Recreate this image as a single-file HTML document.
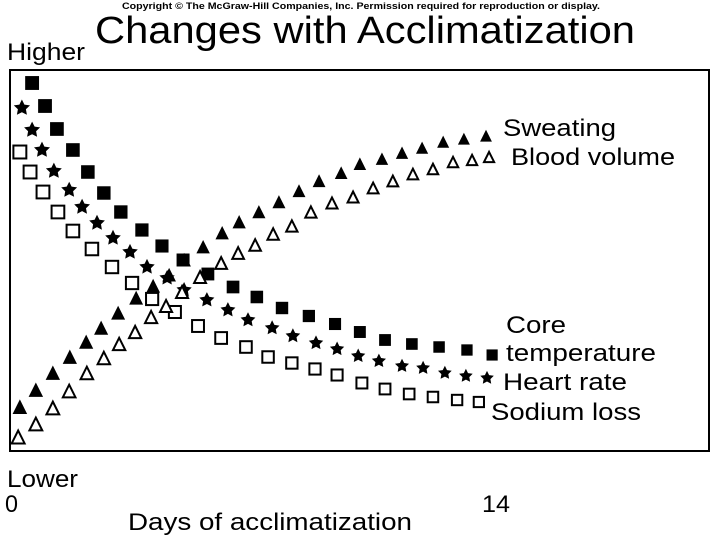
<!DOCTYPE html>
<html><head><meta charset="utf-8"><style>
body{margin:0;background:#fff;}
svg{display:block;font-family:"Liberation Sans",sans-serif;}
</style></head><body>
<svg id="chart" width="720" height="540" viewBox="0 0 720 540">
<text x="122" y="9" font-size="9" font-weight="bold" textLength="478" lengthAdjust="spacingAndGlyphs">Copyright © The McGraw-Hill Companies, Inc. Permission required for reproduction or display.</text>
<text x="95" y="43" font-size="38" textLength="540" lengthAdjust="spacingAndGlyphs">Changes with Acclimatization</text>
<rect x="10" y="70" width="699" height="381" fill="none" stroke="#000" stroke-width="2"/>
<g font-size="24">
<text x="7" y="60" textLength="78" lengthAdjust="spacingAndGlyphs">Higher</text>
<text x="7" y="487" textLength="71" lengthAdjust="spacingAndGlyphs">Lower</text>
<text x="5" y="512" textLength="13" lengthAdjust="spacingAndGlyphs">0</text>
<text x="482" y="512" textLength="28" lengthAdjust="spacingAndGlyphs">14</text>
<text x="128" y="530" textLength="284" lengthAdjust="spacingAndGlyphs">Days of acclimatization</text>
<text x="503" y="136" textLength="113" lengthAdjust="spacingAndGlyphs">Sweating</text>
<text x="511" y="165" textLength="164" lengthAdjust="spacingAndGlyphs">Blood volume</text>
<text x="506" y="333" textLength="60" lengthAdjust="spacingAndGlyphs">Core</text>
<text x="506" y="361" textLength="150" lengthAdjust="spacingAndGlyphs">temperature</text>
<text x="503" y="390" textLength="124" lengthAdjust="spacingAndGlyphs">Heart rate</text>
<text x="491" y="420" textLength="150" lengthAdjust="spacingAndGlyphs">Sodium loss</text>
</g>
<g id="marks"></g>
</svg>
<script>
const coreDays=[0.65,1.03,1.38,1.85,2.29,2.76,3.26,3.88,4.47,5.09,5.82,6.56,7.26,8.0,8.79,9.56,10.29,11.03,11.82,12.62,13.44,14.18];
const coreVals=[95.75,90,84.25,79,73.5,68.25,63.5,59,55,51.5,48,44.75,42.25,39.5,37.5,35.5,33.5,31.5,30.5,29.75,29,27.75];
const heartDays=[0.35,0.65,0.94,1.29,1.74,2.12,2.56,3.03,3.53,4.03,4.62,5.12,5.79,6.41,7.0,7.71,8.32,9.0,9.62,10.24,10.85,11.53,12.15,12.79,13.41,14.03];
const heartVals=[89.5,84,79,73.75,69,64.75,60.75,57,53.5,49.75,47,44,41.5,39,36.5,34.5,32.5,30.75,29.25,27.5,26.25,25,24.5,23.25,22.5,22];
const sodiumDays=[0.29,0.59,0.97,1.41,1.85,2.41,3.0,3.59,4.18,4.85,5.53,6.21,6.94,7.59,8.29,8.97,9.62,10.35,11.03,11.74,12.44,13.15,13.79];
const sodiumVals=[78.5,73.5,68.5,63.5,58.75,54.25,49.75,45.75,41.75,38.5,35,32,29.75,27.25,25.75,24.25,22.75,20.75,19.25,18,17.25,16.5,16];
const sweatDays=[0.29,0.76,1.26,1.76,2.24,2.68,3.18,3.71,4.21,4.68,5.12,5.68,6.24,6.74,7.32,7.91,8.5,9.09,9.74,10.29,10.94,11.53,12.12,12.74,13.35,14.0];
const sweatVals=[14.75,19,23.25,27.25,31,34.5,38.25,42,45,47.75,51.5,54.75,58.25,61,63.5,66,68.75,71.25,73.25,75.5,76.75,78.25,79.5,81,81.75,82.5];
const bloodDays=[0.24,0.76,1.26,1.74,2.26,2.76,3.21,3.68,4.15,4.59,5.06,5.59,6.21,6.71,7.21,7.74,8.29,8.85,9.47,10.09,10.68,11.26,11.85,12.44,13.03,13.59,14.09];
const bloodVals=[7.25,10.5,14.5,18.75,23.25,27,30.5,33.5,37.25,40,43.5,47.25,50.75,53.25,55.25,58,60,63.5,65.75,67.25,69.5,71.25,73,74.25,76,76.5,77.25];
const xs=d=>10+d*34;
const ys=v=>466-v*4;
const NS="http://www.w3.org/2000/svg";
const g=document.getElementById('marks');
function mk(tag,attrs){const e=document.createElementNS(NS,tag);for(const k in attrs)e.setAttribute(k,attrs[k]);g.appendChild(e);return e;}
function size(d){return 13-d*0.2;}
function square(days,vals,filled,name){days.forEach((d,i)=>{const x=xs(d),y=ys(vals[i]),s=size(d);
const e=mk('rect',{x:x-s/2,y:y-s/2,width:s,height:s,fill:filled?'#000':'#fff',stroke:'#000','stroke-width':filled?1:2});

});}
function tri(days,vals,filled,name){days.forEach((d,i)=>{const x=xs(d),y=ys(vals[i]),s=size(d);
const e=mk('polygon',{points:`${x},${y-s/2} ${x+s/2},${y+s/2} ${x-s/2},${y+s/2}`,fill:filled?'#000':'#fff',stroke:'#000','stroke-width':filled?1:2,'stroke-linejoin':'miter'});

});}
function star(days,vals,name){days.forEach((d,i)=>{const x=xs(d),y=ys(vals[i]),r=size(d)/2+2;let p=[];
for(let k=0;k<10;k++){const a=-Math.PI/2+k*Math.PI/5,rr=k%2?r*0.5:r;p.push((x+rr*Math.cos(a)).toFixed(1)+','+(y+rr*Math.sin(a)).toFixed(1));}
const e=mk('polygon',{points:p.join(' '),fill:'#000'});

});}
square(coreDays,coreVals,true,'core-temperature-point');
star(heartDays,heartVals,'heart-rate-point');
square(sodiumDays,sodiumVals,false,'sodium-loss-point');
tri(sweatDays,sweatVals,true,'sweating-point');
tri(bloodDays,bloodVals,false,'blood-volume-point');
</script>
</body></html>
